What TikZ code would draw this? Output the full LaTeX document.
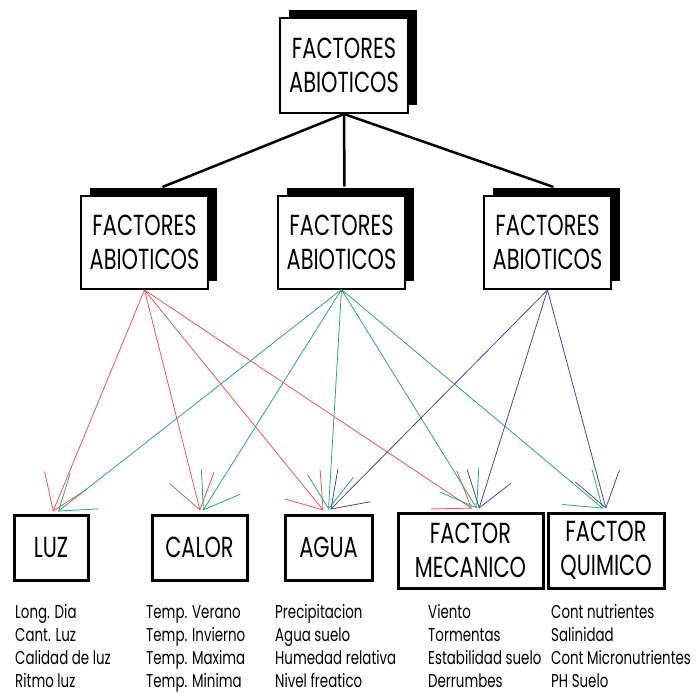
\documentclass[tikz,border=0pt]{standalone}
\usepackage{fontspec}
\setmainfont{Poppins}[FakeStretch=0.72]
\usetikzlibrary{arrows.meta,shadows}
\definecolor{cred}{RGB}{226,88,88}
\definecolor{cgreen}{RGB}{50,165,110}
\definecolor{cblue}{RGB}{72,72,150}
\begin{document}
\begin{tikzpicture}[x=1pt,y=-1pt,
  boxlabel/.style={font=\fontsize{29}{34}\selectfont, align=center},
  midbox/.style={boxlabel, draw, line width=2pt, fill=white, inner sep=0pt,
    minimum width=127pt, minimum height=93pt,
    drop shadow={shadow xshift=9pt, shadow yshift=8pt, fill=black, opacity=1}},
  leafbox/.style={boxlabel, draw, line width=3pt, fill=white, inner sep=0pt},
  conn/.style={line width=2.5pt},
  arr/.style={line width=0.8pt, -{Straight Barb[length=33pt,width=46pt]}},
  item/.style={anchor=base west, inner sep=0pt, font=\fontsize{18.6}{22}\selectfont}
]
\useasboundingbox (0,0) rectangle (697,693);

% top and middle boxes
\node[midbox, minimum width=128pt, minimum height=95pt] (top) at (344,65.5) {FACTORES\\ABIOTICOS};
\node[midbox] (left) at (144.5,242.5) {FACTORES\\ABIOTICOS};
\node[midbox] (mid) at (341.5,242) {FACTORES\\ABIOTICOS};
\node[midbox] (right) at (547.5,242.5) {FACTORES\\ABIOTICOS};

% black connectors
\draw[conn] (top.south) -- ([shift={(18,-8)}]left.north);
\draw[conn] (top.south) -- ([shift={(3,-8)}]mid.north);
\draw[conn] (top.south) -- ([shift={(6,-8)}]right.north);

% leaf boxes
\node[leafbox, minimum width=74pt, minimum height=65pt] (luz) at (51,547.5) {LUZ};
\node[leafbox, minimum width=95pt, minimum height=65pt] (calor) at (199.5,547.5) {CALOR};
\node[leafbox, minimum width=87pt, minimum height=65pt] (agua) at (328.5,547.5) {AGUA};
\node[leafbox, minimum width=145pt, minimum height=75pt] (mec) at (470.5,550.5) {FACTOR\\MECANICO};
\node[leafbox, minimum width=116pt, minimum height=75pt] (qui) at (606,550.5) {FACTOR\\QUIMICO};

% red arrows
\draw[arr, cred] (left.south) -- ([shift={(2,-2)}]luz.north);
\draw[arr, cred] (left.south) -- ([shift={(0.5,-3)}]calor.north);
\draw[arr, cred] (left.south) -- ([shift={(-5,-3)}]agua.north);
\draw[arr, cred] (left.south) -- ([shift={(1.5,-3)}]mec.north);
% green arrows
\draw[arr, cgreen] (mid.south) -- ([shift={(7,-2)}]luz.north);
\draw[arr, cgreen] (mid.south) -- ([shift={(3.5,-3)}]calor.north);
\draw[arr, cgreen] (mid.south) -- ([shift={(0,-4)}]agua.north);
\draw[arr, cgreen] (mid.south) -- ([shift={(6.5,-3)}]mec.north);
\draw[arr, cgreen] (mid.south) -- ([shift={(-3,-3)}]qui.north);
% blue arrows
\draw[arr, cblue] (right.south) -- ([shift={(2,-4)}]agua.north);
\draw[arr, cblue] (right.south) -- ([shift={(8.5,-3)}]mec.north);
\draw[arr, cblue] (right.south) -- ([shift={(0,-3)}]qui.north);

% item lists
\node[item] (l1) at (15,618) {Long. Dia};
\node[item] (l2) at (15,641) {Cant. Luz};
\node[item] (l3) at (15,664) {Calidad de luz};
\node[item] (l4) at (15,687) {Ritmo luz};
\node[item] (c1) at (146,618) {Temp. Verano};
\node[item] (c2) at (146,641) {Temp. Invierno};
\node[item] (c3) at (146,664) {Temp. Maxima};
\node[item] (c4) at (146,687) {Temp. Minima};
\node[item] (a1) at (275,618) {Precipitacion};
\node[item] (a2) at (275,641) {Agua suelo};
\node[item] (a3) at (275,664) {Humedad relativa};
\node[item] (a4) at (275,687) {Nivel freatico};
\node[item] (m1) at (428,618) {Viento};
\node[item] (m2) at (428,641) {Tormentas};
\node[item] (m3) at (428,664) {Estabilidad suelo};
\node[item] (m4) at (428,687) {Derrumbes};
\node[item] (q1) at (551,618) {Cont nutrientes};
\node[item] (q2) at (551,641) {Salinidad};
\node[item] (q3) at (551,664) {Cont Micronutrientes};
\node[item] (q4) at (551,687) {PH Suelo};
\end{tikzpicture}
\end{document}
